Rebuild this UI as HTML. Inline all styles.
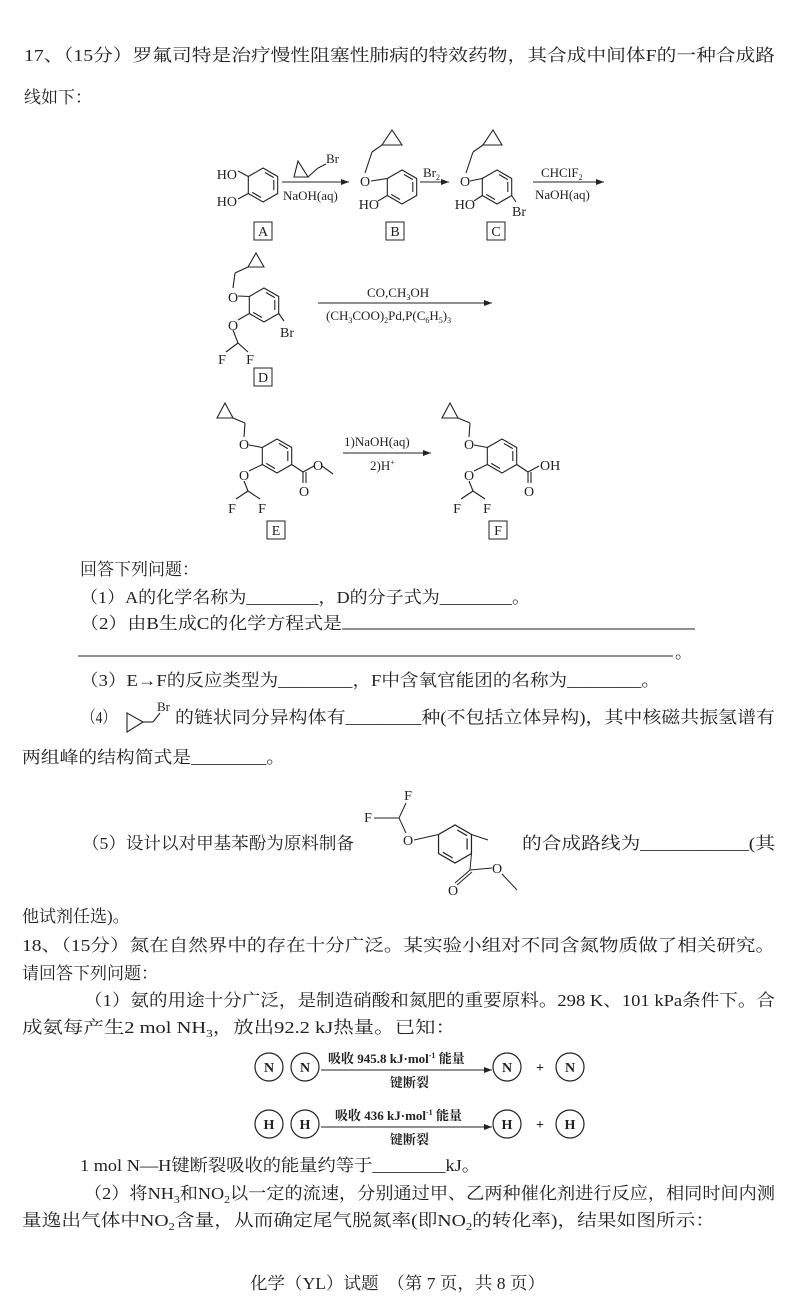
<!DOCTYPE html>
<html><head><meta charset="utf-8"><style>
html,body{margin:0;padding:0;background:#fff}
svg{display:block}
text{font-family:"Liberation Serif","Noto Serif CJK SC",serif;fill:#222}
.t{font-size:17px}
.s{font-size:14px}
.c{font-size:13px}
</style></head><body>
<svg width="800" height="1303" viewBox="0 0 800 1303" xmlns="http://www.w3.org/2000/svg">
<defs>
<g id="ring" fill="none" stroke="#222" stroke-width="1.1">
<polygon points="0,-17 14.7,-8.5 14.7,8.5 0,17 -14.7,8.5 -14.7,-8.5"/>
<line x1="2" y1="-12.5" x2="10.8" y2="-7.4"/>
<line x1="10.8" y1="-5" x2="10.8" y2="5"/>
<line x1="-2" y1="12.5" x2="-10.8" y2="7.4"/>
</g>
<marker id="ah" markerWidth="8" markerHeight="6" refX="8" refY="3" orient="auto" markerUnits="userSpaceOnUse">
<path d="M0,0 L8,3 L0,6 z" fill="#222"/></marker>
</defs>

<text class="t" x="24" y="61" textLength="751" lengthAdjust="spacingAndGlyphs">17、（15分）罗氟司特是治疗慢性阻塞性肺病的特效药物，其合成中间体F的一种合成路</text>
<text class="t" x="24" y="103">线如下：</text>

<!-- A -->
<use href="#ring" x="263" y="185"/>
<g stroke="#222" stroke-width="1.1" fill="none">
<line x1="248.3" y1="176.5" x2="238" y2="171"/>
<line x1="248.3" y1="193.5" x2="238" y2="199"/>
</g>
<text class="s" x="237" y="179" text-anchor="end">HO</text>
<text class="s" x="237" y="206" text-anchor="end">HO</text>
<line x1="282" y1="182" x2="349" y2="182" stroke="#222" marker-end="url(#ah)"/>
<g stroke="#222" stroke-width="1.1" fill="none">
<polygon points="294,177 308,177 298,161"/>
<line x1="308" y1="177" x2="318" y2="168"/><line x1="318" y1="168" x2="326" y2="164"/>
</g>
<text class="c" x="326" y="163">Br</text>
<text class="c" x="283" y="200">NaOH(aq)</text>
<rect x="254" y="222" width="18" height="18" fill="none" stroke="#222"/>
<text class="s" x="263" y="236" text-anchor="middle">A</text>

<!-- B -->
<use href="#ring" x="402" y="187"/>
<g stroke="#222" stroke-width="1.1" fill="none">
<line x1="387.3" y1="178.5" x2="371" y2="181"/>
<line x1="365" y1="173" x2="372" y2="152"/><line x1="372" y1="152" x2="382" y2="145"/>
<polygon points="382,145 402,145 392,130"/>
<line x1="387.3" y1="195.5" x2="378" y2="201"/>
</g>
<text class="s" x="365" y="186" text-anchor="middle">O</text>
<text class="s" x="379" y="209" text-anchor="end">HO</text>
<line x1="420" y1="182" x2="449" y2="182" stroke="#222" marker-end="url(#ah)"/>
<text class="c" x="423" y="177">Br<tspan font-size="8" dy="3">2</tspan></text>
<rect x="386" y="222" width="18" height="18" fill="none" stroke="#222"/>
<text class="s" x="395" y="236" text-anchor="middle">B</text>

<!-- C -->
<use href="#ring" x="497" y="187"/>
<g stroke="#222" stroke-width="1.1" fill="none">
<line x1="482.3" y1="178.5" x2="470" y2="181"/>
<line x1="466" y1="173" x2="473" y2="152"/><line x1="473" y1="152" x2="483" y2="145"/>
<polygon points="483,145 502,145 493,130"/>
<line x1="482.3" y1="195.5" x2="474" y2="201"/>
<line x1="511.7" y1="195.5" x2="516" y2="202"/>
</g>
<text class="s" x="465" y="186" text-anchor="middle">O</text>
<text class="s" x="475" y="209" text-anchor="end">HO</text>
<text class="s" x="512" y="216">Br</text>
<line x1="533" y1="182" x2="604" y2="182" stroke="#222" marker-end="url(#ah)"/>
<text class="c" x="541" y="177">CHClF<tspan font-size="8" dy="3">2</tspan></text>
<text class="c" x="535" y="199">NaOH(aq)</text>
<rect x="487" y="222" width="18" height="18" fill="none" stroke="#222"/>
<text class="s" x="496" y="236" text-anchor="middle">C</text>

<!-- D -->
<use href="#ring" x="264" y="305"/>
<g stroke="#222" stroke-width="1.1" fill="none">
<line x1="249.3" y1="296.5" x2="238" y2="296"/>
<line x1="233" y1="288" x2="235" y2="273"/><line x1="235" y1="273" x2="248" y2="267"/>
<polygon points="248,267 264,267 256,253"/>
<line x1="249.3" y1="313.5" x2="238" y2="320"/>
<line x1="233" y1="330" x2="238" y2="343"/>
<line x1="238" y1="343" x2="226" y2="352"/><line x1="238" y1="343" x2="248" y2="352"/>
<line x1="278.7" y1="313.5" x2="284" y2="321"/>
</g>
<text class="s" x="233" y="302" text-anchor="middle">O</text>
<text class="s" x="233" y="330" text-anchor="middle">O</text>
<text class="s" x="222" y="364" text-anchor="middle">F</text>
<text class="s" x="250" y="364" text-anchor="middle">F</text>
<text class="s" x="280" y="337">Br</text>
<line x1="318" y1="303" x2="492" y2="303" stroke="#222" marker-end="url(#ah)"/>
<text class="c" x="367" y="297">CO,CH<tspan font-size="8" dy="3">3</tspan><tspan dy="-3">OH</tspan></text>
<text class="c" x="326" y="320">(CH<tspan font-size="8" dy="3">3</tspan><tspan dy="-3">COO)</tspan><tspan font-size="8" dy="3">2</tspan><tspan dy="-3">Pd,P(C</tspan><tspan font-size="8" dy="3">6</tspan><tspan dy="-3">H</tspan><tspan font-size="8" dy="3">5</tspan><tspan dy="-3">)</tspan><tspan font-size="8" dy="3">3</tspan></text>
<rect x="254" y="368" width="18" height="18" fill="none" stroke="#222"/>
<text class="s" x="263" y="382" text-anchor="middle">D</text>

<!-- E -->
<use href="#ring" x="277" y="456"/>
<g stroke="#222" stroke-width="1.1" fill="none">
<line x1="262.3" y1="447.5" x2="249" y2="445"/>
<line x1="244" y1="437" x2="245" y2="423"/><line x1="245" y1="423" x2="233" y2="418"/>
<polygon points="217,418 233,418 225,403"/>
<line x1="262.3" y1="464.5" x2="249" y2="471"/>
<line x1="244" y1="481" x2="248" y2="491"/>
<line x1="248" y1="491" x2="236" y2="499"/><line x1="248" y1="491" x2="260" y2="499"/>
<line x1="291.7" y1="464.5" x2="303" y2="472"/>
<line x1="303" y1="472" x2="303" y2="483"/><line x1="306" y1="472" x2="306" y2="483"/>
<line x1="303" y1="472" x2="314" y2="466"/>
<line x1="322" y1="466" x2="333" y2="474"/>
</g>
<text class="s" x="244" y="449" text-anchor="middle">O</text>
<text class="s" x="244" y="480" text-anchor="middle">O</text>
<text class="s" x="232" y="513" text-anchor="middle">F</text>
<text class="s" x="262" y="513" text-anchor="middle">F</text>
<text class="s" x="304" y="496" text-anchor="middle">O</text>
<text class="s" x="318" y="470" text-anchor="middle">O</text>
<line x1="343" y1="453" x2="431" y2="453" stroke="#222" marker-end="url(#ah)"/>
<text class="c" x="344" y="446">1)NaOH(aq)</text>
<text class="c" x="370" y="470">2)H<tspan font-size="8" dy="-5">+</tspan></text>
<rect x="267" y="521" width="18" height="18" fill="none" stroke="#222"/>
<text class="s" x="276" y="535" text-anchor="middle">E</text>

<!-- F -->
<use href="#ring" x="502" y="456"/>
<g stroke="#222" stroke-width="1.1" fill="none">
<line x1="487.3" y1="447.5" x2="474" y2="445"/>
<line x1="469" y1="437" x2="470" y2="423"/><line x1="470" y1="423" x2="458" y2="418"/>
<polygon points="442,418 458,418 450,403"/>
<line x1="487.3" y1="464.5" x2="474" y2="471"/>
<line x1="469" y1="481" x2="473" y2="491"/>
<line x1="473" y1="491" x2="461" y2="499"/><line x1="473" y1="491" x2="485" y2="499"/>
<line x1="516.7" y1="464.5" x2="528" y2="472"/>
<line x1="528" y1="472" x2="528" y2="483"/><line x1="531" y1="472" x2="531" y2="483"/>
<line x1="528" y1="472" x2="539" y2="466"/>
</g>
<text class="s" x="469" y="449" text-anchor="middle">O</text>
<text class="s" x="469" y="480" text-anchor="middle">O</text>
<text class="s" x="457" y="513" text-anchor="middle">F</text>
<text class="s" x="487" y="513" text-anchor="middle">F</text>
<text class="s" x="529" y="496" text-anchor="middle">O</text>
<text class="s" x="540" y="470">OH</text>
<rect x="489" y="521" width="18" height="18" fill="none" stroke="#222"/>
<text class="s" x="498" y="535" text-anchor="middle">F</text>

<!-- Questions -->
<text class="t" x="80" y="575">回答下列问题：</text>
<text class="t" x="80" y="603" textLength="450" lengthAdjust="spacingAndGlyphs">（1）A的化学名称为________，D的分子式为________。</text>
<text class="t" x="80" y="629" textLength="262" lengthAdjust="spacingAndGlyphs">（2）由B生成C的化学方程式是</text>
<line x1="342" y1="629" x2="695" y2="629" stroke="#222"/>
<line x1="78" y1="656" x2="673" y2="656" stroke="#222"/>
<text class="t" x="675" y="658">。</text>
<text class="t" x="80" y="686" textLength="580" lengthAdjust="spacingAndGlyphs">（3）E→F的反应类型为________，F中含氧官能团的名称为________。</text>
<text class="t" x="82" y="723" textLength="34" lengthAdjust="spacingAndGlyphs">（4）</text>
<g stroke="#222" stroke-width="1.1" fill="none">
<polygon points="127,713 127,732 143,722"/>
<line x1="143" y1="722" x2="153" y2="722"/><line x1="153" y1="722" x2="160" y2="713"/>
</g>
<text class="c" x="157" y="711">Br</text>
<text class="t" x="175" y="723" textLength="600" lengthAdjust="spacingAndGlyphs">的链状同分异构体有________种(不包括立体异构)，其中核磁共振氢谱有</text>
<text class="t" x="22" y="763" textLength="263" lengthAdjust="spacingAndGlyphs">两组峰的结构简式是________。</text>

<text class="t" x="82" y="849" textLength="272" lengthAdjust="spacingAndGlyphs">（5）设计以对甲基苯酚为原料制备</text>
<g transform="translate(455,844) scale(1.12)"><use href="#ring"/></g>
<g stroke="#222" stroke-width="1" fill="none">
<line x1="438.5" y1="834.5" x2="414" y2="840"/>
<line x1="406" y1="833" x2="399" y2="818"/>
<line x1="399" y1="818" x2="374" y2="818"/><line x1="399" y1="818" x2="406" y2="803"/>
<line x1="471.5" y1="834.5" x2="488" y2="840"/>
<line x1="471.5" y1="853.5" x2="470" y2="870"/>
<line x1="470" y1="870" x2="455" y2="883"/><line x1="472" y1="872" x2="457" y2="885"/>
<line x1="470" y1="870" x2="492" y2="868"/>
<line x1="502" y1="874" x2="517" y2="890"/>
</g>
<text class="s" x="408" y="845" text-anchor="middle">O</text>
<text class="s" x="368" y="822" text-anchor="middle">F</text>
<text class="s" x="408" y="800" text-anchor="middle">F</text>
<text class="s" x="453" y="895" text-anchor="middle">O</text>
<text class="s" x="497" y="873" text-anchor="middle">O</text>
<text class="t" x="522" y="849" textLength="253" lengthAdjust="spacingAndGlyphs">的合成路线为___________(其</text>
<text class="t" x="22" y="922">他试剂任选)。</text>

<text class="t" x="22" y="951" textLength="753" lengthAdjust="spacingAndGlyphs">18、（15分）氮在自然界中的存在十分广泛。某实验小组对不同含氮物质做了相关研究。</text>
<text class="t" x="22" y="979">请回答下列问题：</text>
<text class="t" x="84" y="1006" textLength="691" lengthAdjust="spacingAndGlyphs">（1）氨的用途十分广泛，是制造硝酸和氮肥的重要原料。298 K、101 kPa条件下。合</text>
<text class="t" x="22" y="1033" textLength="434" lengthAdjust="spacingAndGlyphs">成氨每产生2 mol NH<tspan font-size="11" dy="4">3</tspan><tspan dy="-4">，放出92.2 kJ热量。已知：</tspan></text>

<g fill="none" stroke="#222" stroke-width="1.2">
<circle cx="269" cy="1067" r="14"/><circle cx="305" cy="1067" r="14"/>
<circle cx="507" cy="1067" r="14"/><circle cx="570" cy="1067" r="14"/>
<circle cx="269" cy="1124" r="14"/><circle cx="305" cy="1124" r="14"/>
<circle cx="507" cy="1124" r="14"/><circle cx="570" cy="1124" r="14"/>
</g>
<g font-size="14" font-weight="bold" text-anchor="middle">
<text x="269" y="1072">N</text><text x="305" y="1072">N</text><text x="507" y="1072">N</text><text x="570" y="1072">N</text>
<text x="269" y="1129">H</text><text x="305" y="1129">H</text><text x="507" y="1129">H</text><text x="570" y="1129">H</text>
<text x="540" y="1072">+</text><text x="540" y="1129">+</text>
</g>
<line x1="321" y1="1070" x2="492" y2="1070" stroke="#222" marker-end="url(#ah)"/>
<line x1="321" y1="1127" x2="492" y2="1127" stroke="#222" marker-end="url(#ah)"/>
<text x="328" y="1063" font-size="13" font-weight="bold">吸收 945.8 kJ·mol<tspan font-size="8" dy="-5">-1</tspan><tspan dy="5"> 能量</tspan></text>
<text x="390" y="1087" font-size="13" font-weight="bold">键断裂</text>
<text x="335" y="1120" font-size="13" font-weight="bold">吸收 436 kJ·mol<tspan font-size="8" dy="-5">-1</tspan><tspan dy="5"> 能量</tspan></text>
<text x="390" y="1144" font-size="13" font-weight="bold">键断裂</text>

<text class="t" x="80" y="1171" textLength="400" lengthAdjust="spacingAndGlyphs">1 mol N—H键断裂吸收的能量约等于________kJ。</text>
<text class="t" x="84" y="1199" textLength="691" lengthAdjust="spacingAndGlyphs">（2）将NH<tspan font-size="11" dy="4">3</tspan><tspan dy="-4">和NO</tspan><tspan font-size="11" dy="4">2</tspan><tspan dy="-4">以一定的流速，分别通过甲、乙两种催化剂进行反应，相同时间内测</tspan></text>
<text class="t" x="22" y="1226" textLength="693" lengthAdjust="spacingAndGlyphs">量逸出气体中NO<tspan font-size="11" dy="4">2</tspan><tspan dy="-4">含量，从而确定尾气脱氮率(即NO</tspan><tspan font-size="11" dy="4">2</tspan><tspan dy="-4">的转化率)，结果如图所示：</tspan></text>

<text class="t" x="250" y="1289" textLength="295" lengthAdjust="spacingAndGlyphs">化学（YL）试题　（第 7 页，共 8 页）</text>
</svg>
</body></html>
